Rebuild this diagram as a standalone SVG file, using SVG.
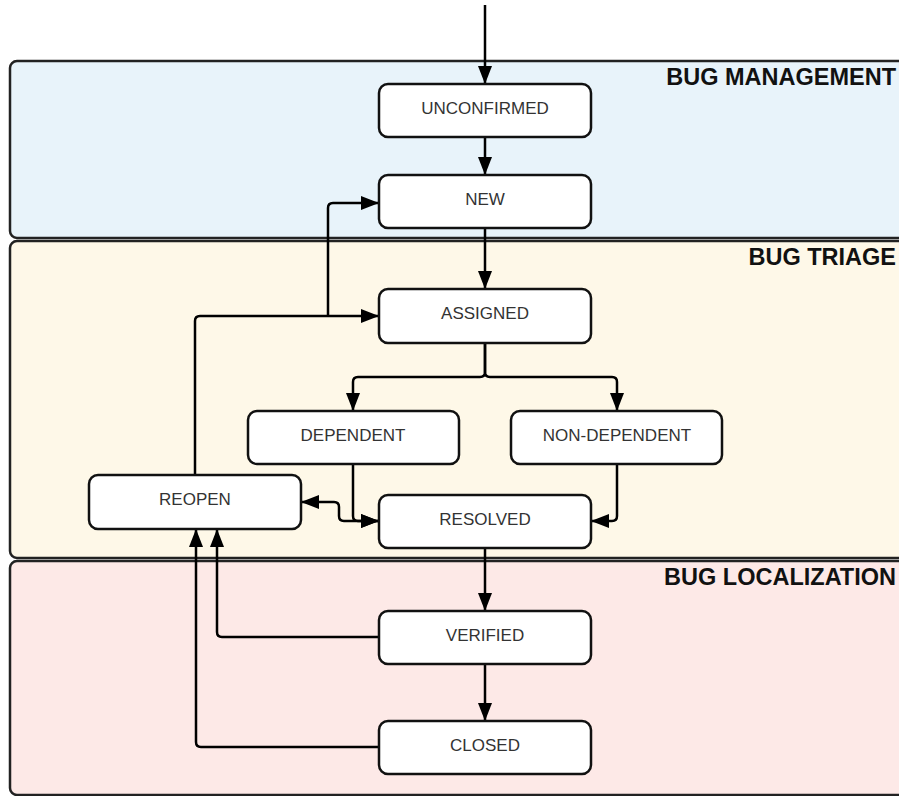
<svg xmlns="http://www.w3.org/2000/svg" width="899" height="796" viewBox="0 0 899 796">
<defs>
<marker id="arr" markerUnits="userSpaceOnUse" markerWidth="18" markerHeight="14" refX="18" refY="7" orient="auto-start-reverse" viewBox="0 0 18 14">
<path d="M0,0 L18,7 L0,14 z" fill="#000"/>
</marker>
<style>
.lane{stroke:#222;stroke-width:2.5}
.lt{font-family:"Liberation Sans",Arial,sans-serif;font-weight:bold;font-size:23.5px;fill:#111;text-anchor:end}
.node rect{fill:#fff;stroke:#111;stroke-width:2.5}
.node text{font-family:"Liberation Sans",Arial,sans-serif;font-size:17px;fill:#333;text-anchor:middle}
.c path{fill:none;stroke:#000;stroke-width:2.5}
</style>
</defs>
<rect width="899" height="796" fill="#fff"/>
<g id="lane-management"><rect class="lane" x="10" y="61" width="900" height="177" rx="7" fill="#E8F3FA"/><text class="lt" x="896" y="85">BUG MANAGEMENT</text></g>
<g id="lane-triage"><rect class="lane" x="10" y="241" width="900" height="317" rx="7" fill="#FEF8E8"/><text class="lt" x="896" y="265">BUG TRIAGE</text></g>
<g id="lane-localization"><rect class="lane" x="10" y="561" width="900" height="234" rx="7" fill="#FDE9E7"/><text class="lt" x="896" y="585">BUG LOCALIZATION</text></g>
<g class="c" id="connectors">
<path d="M485,5 V84" marker-end="url(#arr)"/>
<path d="M485,137 V175" marker-end="url(#arr)"/>
<path d="M485,228 V289" marker-end="url(#arr)"/>
<path d="M485,343 V372 Q485,377 480,377 H358 Q353,377 353,382 V411" marker-end="url(#arr)"/>
<path d="M485,343 V372 Q485,377 490,377 H612 Q617,377 617,382 V411" marker-end="url(#arr)"/>
<path d="M353,464 V516 Q353,521 358,521 H379" marker-end="url(#arr)"/>
<path d="M617,464 V516 Q617,521 612,521 H591" marker-end="url(#arr)"/>
<path d="M301,502 H334 Q339,502 339,507 V516 Q339,521 344,521 H379" marker-start="url(#arr)" marker-end="url(#arr)"/>
<path d="M485,548 V611" marker-end="url(#arr)"/>
<path d="M485,664 V721" marker-end="url(#arr)"/>
<path d="M195,475 V321 Q195,316 200,316 H379" marker-end="url(#arr)"/>
<path d="M328,316 V208 Q328,203 333,203 H379" marker-end="url(#arr)"/>
<path d="M379,637 H222 Q217,637 217,632 V529" marker-end="url(#arr)"/>
<path d="M379,747 H201 Q196,747 196,742 V529" marker-end="url(#arr)"/>
</g>
<g class="node" id="n-unconfirmed"><rect x="379" y="84" width="212" height="53" rx="9"/><text x="485" y="114">UNCONFIRMED</text></g>
<g class="node" id="n-new"><rect x="379" y="175" width="212" height="53" rx="9"/><text x="485" y="205">NEW</text></g>
<g class="node" id="n-assigned"><rect x="379" y="289" width="212" height="54" rx="9"/><text x="485" y="319">ASSIGNED</text></g>
<g class="node" id="n-dependent"><rect x="248" y="411" width="211" height="53" rx="9"/><text x="353" y="441">DEPENDENT</text></g>
<g class="node" id="n-nondependent"><rect x="511" y="411" width="211" height="53" rx="9"/><text x="617" y="441">NON-DEPENDENT</text></g>
<g class="node" id="n-reopen"><rect x="89" y="475" width="212" height="54" rx="9"/><text x="195" y="505">REOPEN</text></g>
<g class="node" id="n-resolved"><rect x="379" y="495" width="212" height="53" rx="9"/><text x="485" y="525">RESOLVED</text></g>
<g class="node" id="n-verified"><rect x="379" y="611" width="212" height="53" rx="9"/><text x="485" y="641">VERIFIED</text></g>
<g class="node" id="n-closed"><rect x="379" y="721" width="212" height="53" rx="9"/><text x="485" y="751">CLOSED</text></g>
</svg>
